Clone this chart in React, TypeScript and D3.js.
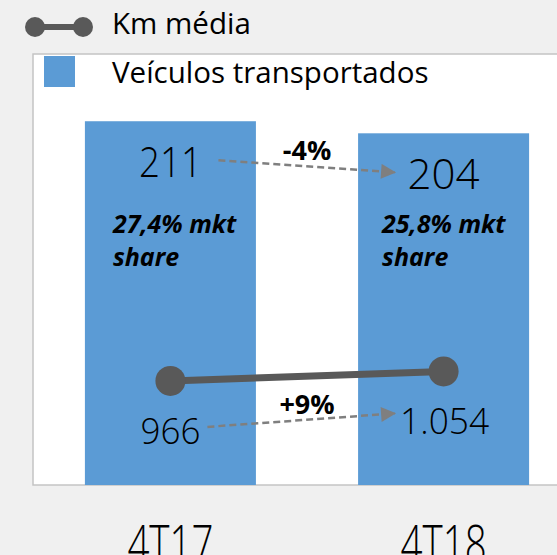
import React from "react";
import * as d3 from "d3";

const categories = ["4T17", "4T18"];
const veiculos = [211, 204];
const kmMedia = [966, 1054];
const shareLabels = [["27,4% mkt", "share"], ["25,8% mkt", "share"]];
const veiculosChange = "-4%";
const kmChange = "+9%";

const W = 557;
const H = 555;
const plot = { left: 33, top: 54, right: 590, bottom: 485 };

const BLUE = "#5b9bd5";
const LINE = "#595959";
const ARROW = "#7f7f7f";
const numFont = "'Open Sans', sans-serif";

const fmtKm = (v: number) =>
  v >= 1000 ? d3.format(",")(v).replace(/,/g, ".") : String(v);

export default function App() {
  const x = d3
    .scaleBand<string>()
    .domain(categories)
    .range([plot.left, 581])
    .paddingInner(0.374)
    .paddingOuter(0.19);
  const yBar = d3.scaleLinear().domain([0, 250]).range([plot.bottom, plot.top]);
  const yLine = d3.scaleLinear().domain([0, 4000]).range([plot.bottom, plot.top]);

  const cx = (c: string) => (x(c) as number) + x.bandwidth() / 2;
  const line = d3
    .line<number>()
    .x((d, i) => cx(categories[i]))
    .y((d) => yLine(d));

  const barLabelY = veiculos.map((v) => yBar(v) + 56);
  const kmLabelY = kmMedia.map((v) => yLine(v) + 63);
  const c0 = cx(categories[0]);
  const c1 = cx(categories[1]);
  const mid = (c0 + c1) / 2;

  const arrows = [
    { x1: c0 + 48, y1: barLabelY[0] - 17, x2: c1 - 49, y2: barLabelY[1] - 17, label: veiculosChange },
    { x1: c0 + 37, y1: kmLabelY[0] - 17, x2: c1 - 49, y2: kmLabelY[1] - 21, label: kmChange },
  ];

  return (
    <svg
      width={W}
      height={H}
      style={{ position: "absolute", left: 0, top: 0 }}
      fontFamily="'Open Sans', sans-serif"
    >
      <defs>
        <marker id="arr" viewBox="0 0 10 10" refX="9" refY="5" markerWidth="6.5" markerHeight="6" orient="auto">
          <path d="M0,0 L10,5 L0,10 z" fill={ARROW} />
        </marker>
      </defs>
      <rect width={W} height={H} fill="#f0f0f0" />
      <rect
        x={plot.left}
        y={plot.top}
        width={plot.right - plot.left}
        height={plot.bottom - plot.top}
        fill="#fff"
        stroke="#c4c4c4"
        strokeWidth={1.5}
      />

      {/* legend */}
      <g>
        <line x1={35} x2={83} y1={27} y2={27} stroke={LINE} strokeWidth={6} />
        <circle cx={35} cy={27} r={10} fill={LINE} />
        <circle cx={83} cy={27} r={10} fill={LINE} />
        <text x={112} y={34} fontSize={29.5} fill="#000">Km média</text>
        <rect x={44} y={56} width={31} height={31} fill={BLUE} />
        <text x={112} y={83} fontSize={29.5} fill="#000">Veículos transportados</text>
      </g>

      {/* bars */}
      {categories.map((c, i) => (
        <rect
          key={c}
          x={x(c)}
          y={yBar(veiculos[i])}
          width={x.bandwidth()}
          height={plot.bottom - yBar(veiculos[i])}
          fill={BLUE}
        />
      ))}

      {/* bar value labels */}
      {categories.map((c, i) => (
        <text
          key={"v" + c}
          x={cx(c)}
          y={barLabelY[i]}
          textAnchor="middle"
          fontFamily={numFont}
          fontWeight={300}
          fontSize={43}
          textLength={i === 0 ? 63 : 72}
          lengthAdjust="spacingAndGlyphs"
        >
          {veiculos[i]}
        </text>
      ))}

      {/* share labels */}
      {categories.map((c, i) =>
        shareLabels[i].map((s, j) => (
          <text
            key={"s" + c + j}
            x={(x(c) as number) + (i === 0 ? 28 : 24)}
            y={233 + j * 33}
            fontSize={25}
            fontWeight={700}
            fontStyle="italic"
          >
            {s}
          </text>
        ))
      )}

      {/* km line */}
      <path d={line(kmMedia) || ""} fill="none" stroke={LINE} strokeWidth={7} />
      {categories.map((c, i) => (
        <circle key={"p" + c} cx={cx(c)} cy={yLine(kmMedia[i])} r={15} fill={LINE} />
      ))}
      {categories.map((c, i) => (
        <text
          key={"k" + c}
          x={cx(c) + (i === 0 ? 0 : 1)}
          y={kmLabelY[i]}
          textAnchor="middle"
          fontFamily={numFont}
          fontWeight={300}
          fontSize={36}
          textLength={i === 0 ? 60 : 89}
          lengthAdjust="spacingAndGlyphs"
        >
          {fmtKm(kmMedia[i])}
        </text>
      ))}

      {/* change arrows */}
      {arrows.map((a, i) => (
        <g key={"a" + i}>
          <line
            x1={a.x1}
            y1={a.y1}
            x2={a.x2}
            y2={a.y2}
            stroke={ARROW}
            strokeWidth={2.5}
            strokeDasharray="7,4"
            markerEnd="url(#arr)"
          />
          <text
            x={mid}
            y={(a.y1 + a.y2) / 2 - 6}
            textAnchor="middle"
            fontSize={27}
            fontWeight={700}
          >
            {a.label}
          </text>
        </g>
      ))}

      {/* x axis labels (cut at the bottom edge, as in the original) */}
      {categories.map((c) => (
        <text
          key={"x" + c}
          x={cx(c)}
          y={563}
          textAnchor="middle"
          fontFamily={numFont}
          fontWeight={300}
          fontSize={53}
          textLength={86}
          lengthAdjust="spacingAndGlyphs"
        >
          {c}
        </text>
      ))}
    </svg>
  );
}
